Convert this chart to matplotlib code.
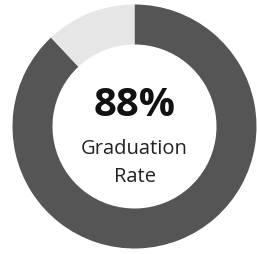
import matplotlib.pyplot as plt

labels = ['Graduated', 'Not graduated']
values = [88, 12]
colors = ['#555555', '#e6e6e6']
big_text = '88%'
sub_text = 'Graduation\nRate'

plt.rcParams['font.family'] = ['Open Sans', 'DejaVu Sans']

fig = plt.figure(figsize=(2.57, 2.55), dpi=100)
ax = fig.add_axes([0, 0, 1, 1])

ax.pie(values, colors=colors, startangle=90, counterclock=False,
       center=(134.5, 127.5), radius=122,
       wedgeprops=dict(width=40, linewidth=0))

ax.text(134.5, 149, big_text, ha='center', va='center',
        fontsize=29, fontweight='bold', color='#111111')
ax.text(134.5, 92, sub_text, ha='center', va='center',
        fontsize=14.5, color='#222222', linespacing=1.6)

ax.set_xlim(0, 257)
ax.set_ylim(0, 255)
ax.axis('off')

fig.savefig('out.png', dpi=100)
